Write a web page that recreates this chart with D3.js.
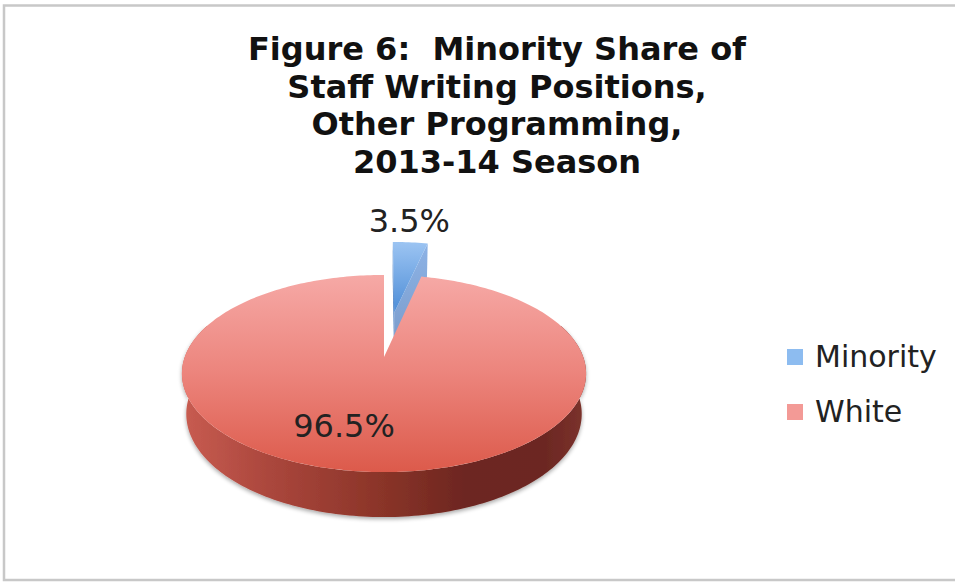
<!DOCTYPE html>
<html>
<head>
<meta charset="utf-8">
<script src="https://cdn.jsdelivr.net/npm/d3@7"></script>
<style>
  html, body { margin: 0; padding: 0; background: #fff; }
  svg { display: block; }
  text { font-family: Verdana, "DejaVu Sans", sans-serif; white-space: pre; }
</style>
</head>
<body>
<svg id="chart" width="955" height="582"></svg>
<script>
// ---- data ----
const categories = ["Minority", "White"];
const shares = [3.5, 96.5];
const shareLabels = ["3.5%", "96.5%"];
const titleLines = [
  "Figure 6:  Minority Share of",
  "Staff Writing Positions,",
  "Other Programming,",
  "2013-14 Season"
];

// ---- look ----
const explode = [0.505, 0];          // radial pull-out of each slice (in radii)
const view = {                       // perspective camera for the 3-D disc
  cx: 384, cy: 357, f: 1044,
  sinT: 0.481, cosT: 0.877, dist: 5.24, depth: 0.234
};

const W = 955, H = 582;
const svg = d3.select("#chart");
const defs = svg.append("defs");

function linGrad(id, x1, y1, x2, y2, stops) {
  const g = defs.append("linearGradient").attr("id", id)
    .attr("gradientUnits", "userSpaceOnUse")
    .attr("x1", x1).attr("y1", y1).attr("x2", x2).attr("y2", y2);
  stops.forEach(([o, c]) => g.append("stop").attr("offset", o).attr("stop-color", c));
}

// project a point of the 3-D disc (x right, y up, z away from viewer)
function project(x, y, z) {
  const Yc = y * view.cosT + z * view.sinT;
  const Zc = view.dist + z * view.cosT - y * view.sinT;
  return [view.cx + view.f * x / Zc, view.cy - view.f * Yc / Zc];
}

// frame
svg.append("rect")
  .attr("x", 4).attr("y", 5.5).attr("width", W + 20).attr("height", 574.5)
  .attr("fill", "#fff").attr("stroke", "#c8c8c8").attr("stroke-width", 2.5);

// title
const title = svg.append("text")
  .attr("text-anchor", "middle")
  .attr("font-size", 32).attr("font-weight", "bold").attr("fill", "#111");
titleLines.forEach((t, i) => {
  title.append("tspan").attr("x", 497).attr("y", 60 + i * 37.7).text(t);
});

// gradients
linGrad("topRed", 0, 275, 0, 472, [[0, "#f6a9a6"], [0.5, "#ec847c"], [1, "#dc5a4b"]]);
linGrad("sideRed", 183, 0, 586, 0, [
  [0, "#c85c51"], [0.22, "#aa463c"], [0.48, "#8c3529"], [0.7, "#6d2620"],
  [0.9, "#6c2823"], [1, "#7c322c"]
]);
linGrad("topBlue", 0, 242, 0, 315, [[0, "#9cc4f2"], [1, "#4a8bd6"]]);
linGrad("cutBlue", 0, 242, 0, 330, [[0, "#8db3e6"], [1, "#7d9fcf"]]);
linGrad("legBlue", 0, 349, 0, 365, [[0, "#8dbcf0"], [1, "#4f8fd8"]]);
linGrad("legRed", 0, 404, 0, 420, [[0, "#f39a96"], [1, "#de5f52"]]);

const shadow = defs.append("filter").attr("id", "shadow")
  .attr("x", "-10%").attr("y", "-10%").attr("width", "120%").attr("height", "130%");
shadow.append("feGaussianBlur").attr("in", "SourceAlpha").attr("stdDeviation", 2.2).attr("result", "b");
shadow.append("feOffset").attr("in", "b").attr("dy", 2).attr("result", "o");
shadow.append("feComponentTransfer").attr("in", "o").attr("result", "s")
  .append("feFuncA").attr("type", "linear").attr("slope", 0.35);
const merge = shadow.append("feMerge");
merge.append("feMergeNode").attr("in", "s");
merge.append("feMergeNode").attr("in", "SourceGraphic");

const styles = [
  { top: "url(#topBlue)", side: "#4a7fc0", cut: "url(#cutBlue)", cut0: "#4a80c4" },
  { top: "url(#topRed)",  side: "url(#sideRed)", cut: "#b84a40", cut0: "#b84a40" }
];

// ---- pie layout ----
const arcs = d3.pie().sort(null).value(d => d)
  .startAngle(0).endAngle(2 * Math.PI)(shares);

const slices = arcs.map((a, i) => {
  const mid = (a.startAngle + a.endAngle) / 2;
  return {
    i, a0: a.startAngle, a1: a.endAngle, mid,
    ox: explode[i] * Math.sin(mid), oz: explode[i] * Math.cos(mid)
  };
});

const cam = [0, view.dist * view.sinT, -view.dist * view.cosT];
const line = d3.line();

function rim(s, a0, a1, y) {
  const n = Math.max(2, Math.ceil((a1 - a0) / 0.02));
  return d3.range(n + 1).map(k => {
    const a = a0 + (a1 - a0) * k / n;
    return project(s.ox + Math.sin(a), y, s.oz + Math.cos(a));
  });
}

// farthest slice first
slices.sort((p, q) => q.oz - p.oz);

const pieG = svg.append("g");
slices.forEach(s => {
  const st = styles[s.i];
  const g = pieG.append("g");
  const h = -view.depth;

  // outer wall, only the part that can face the viewer
  const w0 = Math.max(s.a0, Math.PI / 2 - 0.35);
  const w1 = Math.min(s.a1, 1.5 * Math.PI + 0.35);
  if (w1 > w0) {
    const topR = rim(s, w0, w1, 0);
    const botR = rim(s, w0, w1, h).reverse();
    g.append("path").attr("d", line(topR.concat(botR)) + "Z")
      .attr("fill", st.side).attr("filter", "url(#shadow)");
  }

  // radial cut faces
  [[s.a0, -1], [s.a1, 1]].forEach(([a, sign]) => {
    const nx = sign * Math.cos(a), nz = -sign * Math.sin(a);
    const dot = nx * (cam[0] - s.ox) + nz * (cam[2] - s.oz);
    if (dot <= 0.001) return;
    const pts = [
      project(s.ox, 0, s.oz),
      project(s.ox + Math.sin(a), 0, s.oz + Math.cos(a)),
      project(s.ox + Math.sin(a), h, s.oz + Math.cos(a)),
      project(s.ox, h, s.oz)
    ];
    g.append("path").attr("d", line(pts) + "Z")
      .attr("fill", sign > 0 ? st.cut : st.cut0);
  });

  // top face
  const topPts = [project(s.ox, 0, s.oz)].concat(rim(s, s.a0, s.a1, 0));
  g.append("path").attr("d", line(topPts) + "Z").attr("fill", st.top);
});

// ---- value labels ----
const byIndex = d3.sort(slices, s => s.i);
{
  const s = byIndex[0];
  const p = project(s.ox + Math.sin(s.mid), 0, s.oz + Math.cos(s.mid));
  svg.append("text").attr("x", p[0] - 1).attr("y", p[1] - 10)
    .attr("text-anchor", "middle").attr("font-size", 32).attr("fill", "#222")
    .text(shareLabels[0]);
}
{
  const a = 195.8 * Math.PI / 180, r = 0.659;
  const p = project(r * Math.sin(a), 0, r * Math.cos(a));
  svg.append("text").attr("x", p[0]).attr("y", p[1]).attr("dy", "0.37em")
    .attr("text-anchor", "middle").attr("font-size", 32).attr("fill", "#222")
    .text(shareLabels[1]);
}

// ---- legend ----
const legend = svg.append("g").attr("transform", "translate(787,349)");
categories.forEach((c, i) => {
  const row = legend.append("g").attr("transform", `translate(0,${i * 55})`);
  row.append("rect").attr("width", 16).attr("height", 16)
    .attr("fill", i === 0 ? "url(#legBlue)" : "url(#legRed)");
  row.append("text").attr("x", 28).attr("y", 18)
    .attr("font-size", 30).attr("fill", "#222").text(c);
});
</script>
</body>
</html>
